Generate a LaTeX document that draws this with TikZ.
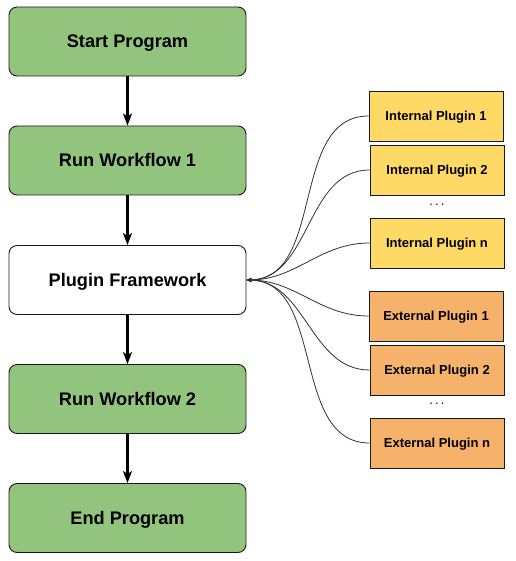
\documentclass[tikz,border=0pt]{standalone}
\usepackage{fontspec}
\setmainfont{Liberation Sans}
\usepackage{tikz}
\usetikzlibrary{positioning,arrows.meta}
\definecolor{verde}{HTML}{93C47D}
\definecolor{amarillo}{HTML}{FFD966}
\definecolor{naranja}{HTML}{F6B26B}
\definecolor{tinta}{HTML}{1A1A1A}
\tikzset{
  paso/.style={draw=tinta,line width=0.9pt,rounded corners=8pt,align=center,font=\fontsize{18.2}{20}\selectfont\bfseries,minimum width=237pt,minimum height=69pt,inner sep=0pt,text height=13pt,text depth=0pt},
  plugin/.style={draw=tinta,line width=0.9pt,align=center,font=\fontsize{13}{15}\selectfont\bfseries,minimum width=134pt,minimum height=50pt,inner sep=0pt,text height=9.4pt,text depth=0pt},
  flecha/.style={-{Stealth[length=12pt,width=9pt,inset=3pt]},line width=2.6pt,color=black},
  enlace/.style={{Stealth[length=5pt,width=4pt]}-,line width=0.8pt,color=tinta!90},
}

\begin{document}
\begin{tikzpicture}[x=1pt,y=-1pt]
  \useasboundingbox (0,0) rectangle (515,561);
  \node[paso,fill=verde] (start) at (127.5,41.5) {Start Program};
  \node[paso,fill=verde] (wf1) at (127.5,160.5) {Run Workflow 1};
  \node[paso,fill=white] (pf) at (127.5,280) {Plugin Framework};
  \node[paso,fill=verde] (wf2) at (127.5,399) {Run Workflow 2};
  \node[paso,fill=verde] (stop) at (127.5,518) {End Program};
  \node[plugin,fill=amarillo] (ip1) at (436,116) {Internal Plugin 1};
  \node[plugin,fill=amarillo] (ip2) at (437,170) {Internal Plugin 2};
  \node[plugin,fill=amarillo] (ipn) at (437,243) {Internal Plugin n};
  \node[plugin,fill=naranja] (ep1) at (436,316) {External Plugin 1};
  \node[plugin,fill=naranja] (ep2) at (437,370) {External Plugin 2};
  \node[plugin,fill=naranja] (epn) at (437,443) {External Plugin n};
  \node[font=\fontsize{13}{13}\selectfont] (d1) at (437,205) {.\,.\,.};
  \node[font=\fontsize{13}{13}\selectfont] (d2) at (437,404) {.\,.\,.};
  \foreach \a/\b in {start/wf1,wf1/pf,pf/wf2,wf2/stop}
    \draw[flecha] (\a) -- (\b);
  \foreach \p in {ip1,ip2,ipn,ep1,ep2,epn}
    \draw[enlace] (pf.east) to[out=0,in=180] (\p.west);
\end{tikzpicture}
\end{document}
